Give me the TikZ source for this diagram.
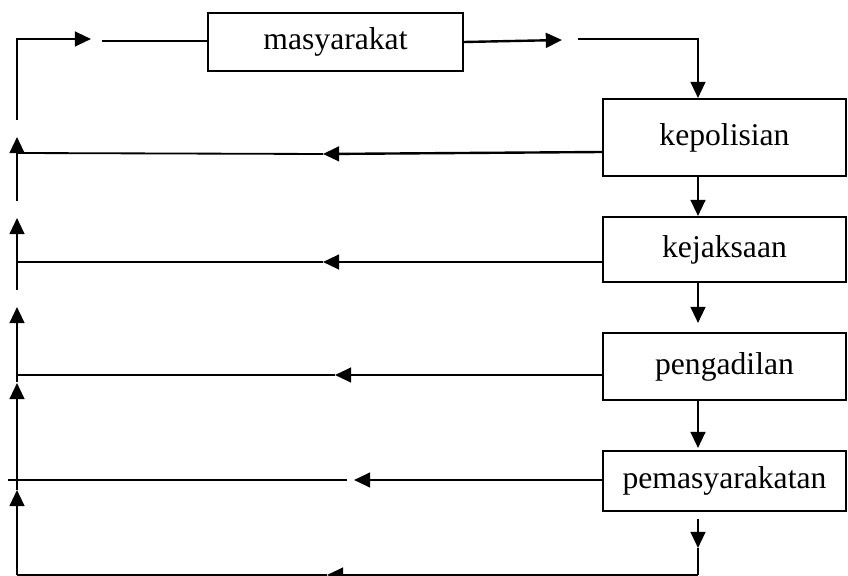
\documentclass[tikz,border=0pt]{standalone}
\usepackage{fontspec}
\setmainfont{Liberation Serif}
\usetikzlibrary{arrows.meta,calc}
\tikzset{
  box/.style={draw, line width=1.4pt, inner sep=0pt, font=\fontsize{22.5}{27}\selectfont},
  arr/.style={line width=1.7pt, -{Triangle[length=11.5pt,width=10.5pt]}},
  ln/.style={line width=1.7pt},
  thinln/.style={line width=1.3pt},
}

\begin{document}
\begin{tikzpicture}[x=0.025cm, y=-0.025cm]
  \useasboundingbox (0,0) rectangle (848,576);

  \node[box, minimum width=6.375cm, minimum height=1.45cm] (mas) at (335.5,42) {masyarakat};
  \node[box, minimum width=6.05cm, minimum height=1.925cm] (kep) at (724.5,137.5) {kepolisian};
  \node[box, minimum width=6.05cm, minimum height=1.625cm] (kej) at (724.5,249.5) {kejaksaan};
  \node[box, minimum width=6.05cm, minimum height=1.675cm] (peng) at (724.5,366.5) {pengadilan};
  \node[box, minimum width=6.05cm, minimum height=1.5cm] (pem) at (724.5,481) {pemasyarakatan};

  \coordinate (ax) at (698,0);    % down line
  \coordinate (s0) at (17,120);   % top left start
  \coordinate (t0) at (91,39);
  \coordinate (g0) at (102,41);
  \coordinate (t1) at (562,40);
  \coordinate (g1) at (578,39);
  \coordinate (b1) at (698,548);  % bottom right
  \coordinate (b2) at (698,575);
  \coordinate (tb) at (327,575);
  \coordinate (c5) at (17,575);   % bottom left

  % top row
  \draw[arr] (s0) |- (t0);
  \draw[ln] (g0) -- (mas.west |- g0);
  \draw[arr] (mas.east) -- (t1);
  \draw[arr] (g1) -| (kep.north -| ax);

  % down the right side
  \draw[arr] (kep.south -| ax) -- (kej.north -| ax);
  \draw[arr] (kej.south -| ax) -- ($(peng.north -| ax)+(0,-9)$);
  \draw[arr] (peng.south -| ax) -- ($(pem.north -| ax)+(0,-2)$);
  \draw[arr] ($(pem.south -| ax)+(0,7)$) -- (b1);
  \draw[ln] (b1) -- (b2);

  % back to the left
  \coordinate (f1) at (323,154);  \coordinate (l1) at (17,153);
  \coordinate (f2) at (323,262);  \coordinate (l2) at (17,262);
  \coordinate (f3) at (335,375);  \coordinate (l3) at (17,375);
  \coordinate (f4) at (354,480);  \coordinate (h4) at (347,480);
  \coordinate (l4) at (8,480);

  \draw[arr] ($(kep.west)+(0,14.5)$) -- (f1);
  \draw[thinln] (f1) -- (l1);
  \draw[arr] (kej.west |- f2) -- (f2);
  \draw[thinln] (f2) -- (l2);
  \draw[arr] (peng.west |- f3) -- (f3);
  \draw[thinln] (f3) -- (l3);
  \draw[arr] (pem.west |- f4) -- (f4);
  \draw[thinln] (h4) -- (l4);
  \draw[arr] (b2) -- (tb);
  \draw[thinln] (tb) -- (c5);

  % up the left side
  \coordinate (v0a) at (17,201);  \coordinate (v0b) at (17,137);
  \coordinate (v1a) at (17,290);  \coordinate (v1b) at (17,218);
  \coordinate (v2a) at (17,382);  \coordinate (v2b) at (17,307);
  \coordinate (v3a) at (17,490);  \coordinate (v3b) at (17,383);
  \coordinate (v4b) at (17,490);

  \draw[arr] (v0a) -- (v0b);
  \draw[arr] (v1a) -- (v1b);
  \draw[arr] (v2a) -- (v2b);
  \draw[arr] (v3a) -- (v3b);
  \draw[arr] (c5) -- (v4b);
\end{tikzpicture}
\end{document}
